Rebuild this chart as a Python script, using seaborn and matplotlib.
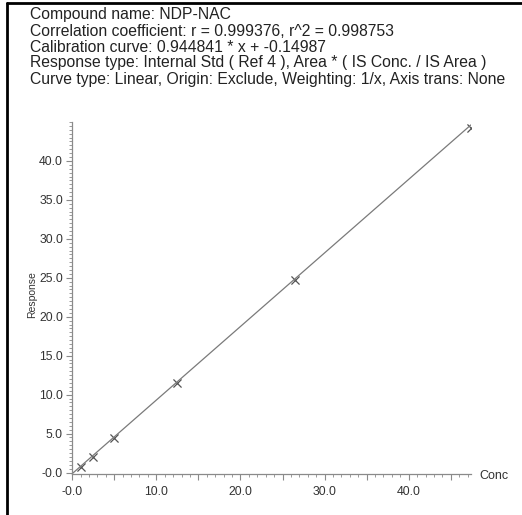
import matplotlib
matplotlib.use("Agg")
import matplotlib.pyplot as plt
from matplotlib.ticker import MultipleLocator, FixedLocator, FixedFormatter
from matplotlib.lines import Line2D
import numpy as np
import pandas as pd
import seaborn as sns

# Calibration standards (concentration vs. response)
conc = [1.0, 2.5, 5.0, 12.4, 26.5, 47.4]
response = [0.67, 2.03, 4.38, 11.44, 24.7, 44.2]

# Fitted calibration curve
slope = 0.944841
intercept = -0.14987

header_lines = [
    "Compound name: NDP-NAC",
    "Correlation coefficient: r = 0.999376, r^2 = 0.998753",
    "Calibration curve: 0.944841 * x + -0.14987",
    "Response type: Internal Std ( Ref 4 ), Area * ( IS Conc. / IS Area )",
    "Curve type: Linear, Origin: Exclude, Weighting: 1/x, Axis trans: None",
]

x_tick_values = [0, 10, 20, 30, 40]
x_tick_labels = ["-0.0", "10.0", "20.0", "30.0", "40.0"]
y_tick_values = [0, 5, 10, 15, 20, 25, 30, 35, 40]
y_tick_labels = ["-0.0", "5.0", "10.0", "15.0", "20.0", "25.0", "30.0", "35.0", "40.0"]

sns.set_theme(style="white")
plt.rcParams["font.family"] = ["Liberation Sans", "DejaVu Sans"]

W, H = 522, 515
fig = plt.figure(figsize=(W / 100, H / 100), dpi=100)
fig.patch.set_facecolor("white")

# Plot area in pixel coordinates
ax_left, ax_right, ax_top, ax_bottom = 72, 471, 122, 474
ax = fig.add_axes([ax_left / W, 1 - ax_bottom / H,
                   (ax_right - ax_left) / W, (ax_bottom - ax_top) / H])

x_max = max(conc)
fit_x = np.array([0.0, x_max])
fit = pd.DataFrame({"Conc": fit_x, "Response": slope * fit_x + intercept})
pts = pd.DataFrame({"Conc": conc, "Response": response})

axis_grey = "#8a8a8a"
sns.lineplot(data=fit, x="Conc", y="Response", ax=ax, color="#7a7a7a", linewidth=0.9)
sns.scatterplot(data=pts, x="Conc", y="Response", ax=ax, marker="x", s=34,
                color="#555555", linewidth=0.9)

ax.set_xlim(-0.02, x_max)
ax.set_ylim(-0.19, 45.0)

for side in ("top", "right"):
    ax.spines[side].set_visible(False)
for side in ("left", "bottom"):
    ax.spines[side].set_color(axis_grey)
    ax.spines[side].set_linewidth(0.9)

# x ticks: long ticks every 5, labels every 10, short ticks every 1
x_major = list(np.arange(0, 46, 5))
ax.xaxis.set_major_locator(FixedLocator(x_major))
ax.xaxis.set_major_formatter(FixedFormatter(
    [x_tick_labels[x_tick_values.index(v)] if v in x_tick_values else "" for v in x_major]))
ax.xaxis.set_minor_locator(MultipleLocator(1))

ax.yaxis.set_major_locator(FixedLocator(y_tick_values))
ax.yaxis.set_major_formatter(FixedFormatter(y_tick_labels))
ax.yaxis.set_minor_locator(MultipleLocator(0.5))

ax.tick_params(axis="both", which="major", direction="out", length=4.5, width=0.8,
               color=axis_grey, labelsize=8.8, labelcolor="#333333", pad=2)
ax.tick_params(axis="both", which="minor", direction="out", length=2.5, width=0.6,
               color=axis_grey)
ax.tick_params(axis="x", which="major", pad=4)
ax.tick_params(axis="x", which="both", bottom=True)
ax.tick_params(axis="y", which="both", left=True)

ax.set_xlabel("")
ax.set_ylabel("")
fig.text(479 / W, 1 - 476 / H, "Conc", fontsize=9, color="#333333",
         ha="left", va="center")
fig.text(32 / W, 1 - 295 / H, "Response", fontsize=7.5, color="#333333",
         rotation=90, ha="center", va="center")

# Report header
for i, line in enumerate(header_lines):
    fig.text(30 / W, 1 - (15 + 16 * i) / H, line, fontsize=11.3, color="#222222",
             ha="left", va="center")

# Page frame (top and left edges)
fig.add_artist(Line2D([7 / W, 1.0], [1 - 2.5 / H, 1 - 2.5 / H], transform=fig.transFigure,
                      color="black", linewidth=2.0))
fig.add_artist(Line2D([7 / W, 7 / W], [0.0, 1 - 2.5 / H], transform=fig.transFigure,
                      color="black", linewidth=2.0))

fig.savefig("out.png", dpi=100, facecolor="white")
